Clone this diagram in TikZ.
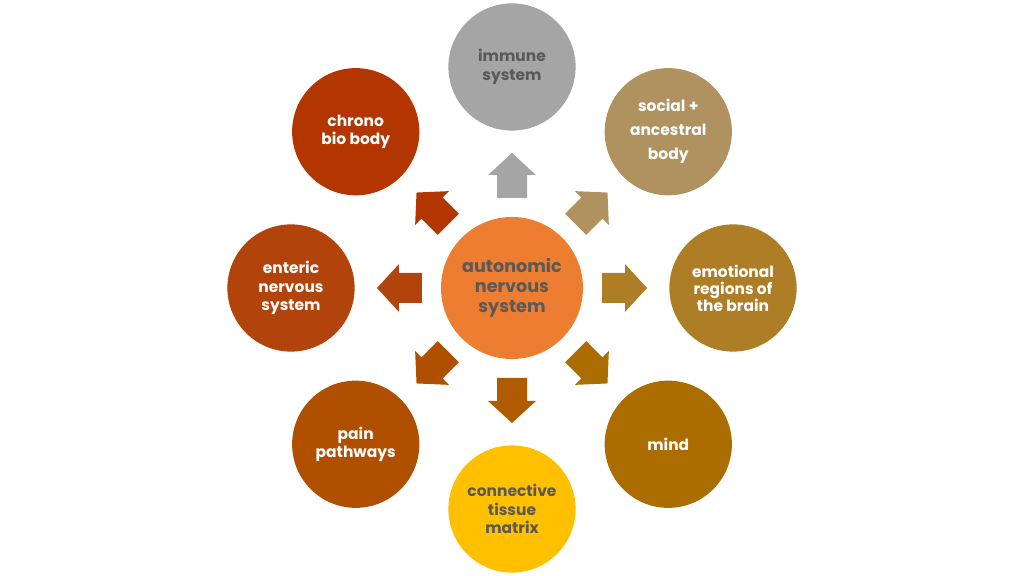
\documentclass[tikz,border=0pt]{standalone}
\usepackage{fontspec}
\setmainfont{Poppins}
\usetikzlibrary{positioning}
\definecolor{ansorange}{HTML}{ED7D31}
\definecolor{labelgray}{HTML}{595959}
\definecolor{immunegray}{HTML}{A5A5A5}
\definecolor{socialtan}{HTML}{AF9260}
\definecolor{emobrown}{HTML}{AE7E26}
\definecolor{mindbrown}{HTML}{AB6C00}
\definecolor{tissueyellow}{HTML}{FFC000}
\definecolor{tissuebrown}{HTML}{AF5B00}
\definecolor{painrust}{HTML}{B04F00}
\definecolor{entericrust}{HTML}{B2440B}
\definecolor{chronored}{HTML}{B33500}
\tikzset{
  hub/.style={circle, fill=ansorange, minimum size=3.55cm, inner sep=0pt, align=center,
    font=\bfseries\fontsize{12.5}{14.2}\selectfont, text=labelgray},
  sat/.style={circle, minimum size=3.18cm, inner sep=0pt, align=center,
    font=\bfseries\fontsize{11}{13}\selectfont, text=white},
  darktxt/.style={text=labelgray}
}

\begin{document}
\begin{tikzpicture}[x=0.025cm, y=0.025cm]
\useasboundingbox (-512,-288) rectangle (512,288);
\node[hub] (ans) at (0,0) {autonomic\\nervous\\system};
% outer circles
\node[sat, fill=immunegray, darktxt] (immune) at (90:221) {immune\\system};
\node[sat, fill=socialtan, font=\bfseries\fontsize{11}{17}\selectfont] (social) at (45:221) {social +\\ancestral\\body};
\node[sat, fill=emobrown, font=\bfseries\fontsize{11}{12}\selectfont] (emo) at (0:221) {emotional\\regions of\\the brain};
\node[sat, fill=mindbrown] (mind) at (-45:221) {mind};
\node[sat, fill=tissueyellow, darktxt] (tissue) at (-90:221) {connective\\tissue\\matrix};
\node[sat, fill=painrust] (pain) at (-135:221) {pain\\pathways};
\node[sat, fill=entericrust] (enteric) at (180:221) {enteric\\nervous\\system};
\node[sat, fill=chronored] (chrono) at (135:221) {chrono\\bio body};
% block arrows
\foreach \ang/\col in {90/immunegray, 45/socialtan, 0/emobrown, -45/mindbrown,
    -90/tissuebrown, -135/painrust, 180/entericrust, 135/chronored}
  \fill[\col, rotate=\ang] (90,-15) -- (113,-15) -- (113,-24) -- (135,0)
    -- (113,24) -- (113,15) -- (90,15) -- cycle;
\end{tikzpicture}
\end{document}
